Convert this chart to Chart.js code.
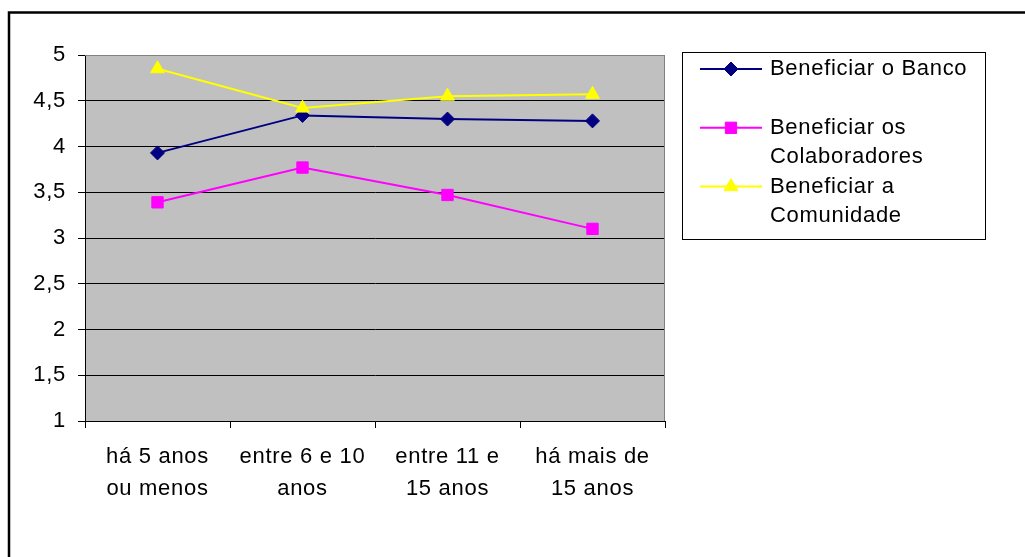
<!DOCTYPE html>
<html>
<head>
<meta charset="utf-8">
<script src="https://cdn.jsdelivr.net/npm/chart.js@4"></script>
<style>
  html, body { margin: 0; padding: 0; background: #fff; }
  canvas { display: block; }
</style>
</head>
<body>
<canvas id="chart" width="1025" height="557"></canvas>
<script>
// Categories (time at the bank) and mean scores per goal
const categories = [
  ['há 5 anos', 'ou menos'],
  ['entre 6 e 10', 'anos'],
  ['entre 11 e', '15 anos'],
  ['há mais de', '15 anos']
];
const beneficiarBanco = [3.93, 4.34, 4.30, 4.28];
const beneficiarColaboradores = [3.39, 3.77, 3.47, 3.10];
const beneficiarComunidade = [4.85, 4.42, 4.55, 4.57];
const seriesNames = [
  ['Beneficiar o Banco'],
  ['Beneficiar os', 'Colaboradores'],
  ['Beneficiar a', 'Comunidade']
];
const yMin = 1, yMax = 5, yStep = 0.5;

const FONT = '"Liberation Sans", Arial, sans-serif';
const FONT_SIZE = 22;
const LETTER_SPACING = '0.7px';

// Grey plot background, frame around the whole figure, plot border and legend box
const decor = {
  id: 'decor',
  beforeDraw(chart) {
    const { ctx, chartArea: a } = chart;
    ctx.letterSpacing = LETTER_SPACING;
    ctx.save();
    ctx.fillStyle = '#fff';
    ctx.fillRect(0, 0, chart.width, chart.height);
    ctx.fillStyle = '#c0c0c0';
    ctx.fillRect(a.left, a.top, a.right - a.left, a.bottom - a.top);
    ctx.restore();
  },
  afterDraw(chart) {
    const { ctx, chartArea: a } = chart;
    ctx.save();
    // outer frame
    ctx.strokeStyle = '#000';
    ctx.lineWidth = 2.5;
    ctx.strokeRect(9, 12.5, 2000, 2000);
    // plot border, top and right
    ctx.strokeStyle = '#808080';
    ctx.lineWidth = 1;
    ctx.beginPath();
    ctx.moveTo(a.left, a.top + 0.5);
    ctx.lineTo(a.right - 0.5, a.top + 0.5);
    ctx.lineTo(a.right - 0.5, a.bottom);
    ctx.stroke();

    // legend
    const bx = 682.5, by = 52.5, bw = 303, bh = 187;
    ctx.strokeStyle = '#000';
    ctx.lineWidth = 1;
    ctx.strokeRect(bx, by, bw, bh);
    const row0 = 69, rowStep = 29.4;
    ctx.font = FONT_SIZE + 'px ' + FONT;
    ctx.textBaseline = 'middle';
    ctx.textAlign = 'left';
    chart.data.datasets.forEach((ds, i) => {
      const y = row0 + i * 2 * rowStep;
      ctx.strokeStyle = ds.borderColor;
      ctx.lineWidth = 2;
      ctx.beginPath();
      ctx.moveTo(700, y);
      ctx.lineTo(762, y);
      ctx.stroke();
      ctx.fillStyle = ds.pointBackgroundColor;
      ctx.strokeStyle = ds.pointBorderColor;
      ctx.lineWidth = 1;
      Chart.helpers.drawPoint(ctx, {
        pointStyle: ds.pointStyle,
        radius: ds.pointRadius,
        borderWidth: 1
      }, 731, y);
      ctx.fillStyle = '#000';
      seriesNames[i].forEach((line, j) => {
        ctx.fillText(line, 770, y + j * rowStep);
      });
    });
    ctx.restore();
  }
};

function series(label, data, color, style, radius, order) {
  return {
    label, data, order,
    borderColor: color,
    backgroundColor: color,
    pointBackgroundColor: color,
    pointBorderColor: color,
    pointStyle: style,
    pointRadius: radius,
    pointHoverRadius: radius,
    borderWidth: 2,
    pointBorderWidth: 1,
    tension: 0
  };
}

const chart = new Chart(document.getElementById('chart'), {
  type: 'line',
  data: {
    labels: categories,
    datasets: [
      series(seriesNames[0].join(' '), beneficiarBanco, '#000080', 'rectRot', 7, 2),
      series(seriesNames[1].join(' '), beneficiarColaboradores, '#ff00ff', 'rect', 8, 1),
      series(seriesNames[2].join(' '), beneficiarComunidade, '#ffff00', 'triangle', 8, 0)
    ]
  },
  options: {
    responsive: false,
    animation: false,
    layout: { padding: { left: 0, top: 55, right: 360, bottom: 0 } },
    plugins: {
      legend: { display: false },
      tooltip: { enabled: false },
      title: { display: false }
    },
    scales: {
      x: {
        offset: true,
        grid: {
          offset: true,
          drawOnChartArea: false,
          drawTicks: true,
          tickLength: 7,
          color: '#000',
          tickColor: '#000'
        },
        border: { display: true, color: '#000', width: 1 },
        ticks: {
          color: '#000',
          font: { family: FONT, size: FONT_SIZE, lineHeight: '32px' },
          padding: 13,
          maxRotation: 0,
          autoSkip: false
        },
        afterFit(scale) { scale.height = 136; }
      },
      y: {
        min: yMin,
        max: yMax,
        grid: {
          color: (c) => (c.tick && c.tick.value === yMax) ? '#808080' : '#000',
          tickColor: '#000',
          tickLength: 7,
          lineWidth: 1
        },
        border: { display: true, color: '#000', width: 1 },
        ticks: {
          stepSize: yStep,
          color: '#000',
          padding: 12,
          font: { family: FONT, size: FONT_SIZE },
          callback: (v) => String(v).replace('.', ',')
        },
        afterFit(scale) { scale.width = 85; }
      }
    }
  },
  plugins: [decor]
});
</script>
</body>
</html>
